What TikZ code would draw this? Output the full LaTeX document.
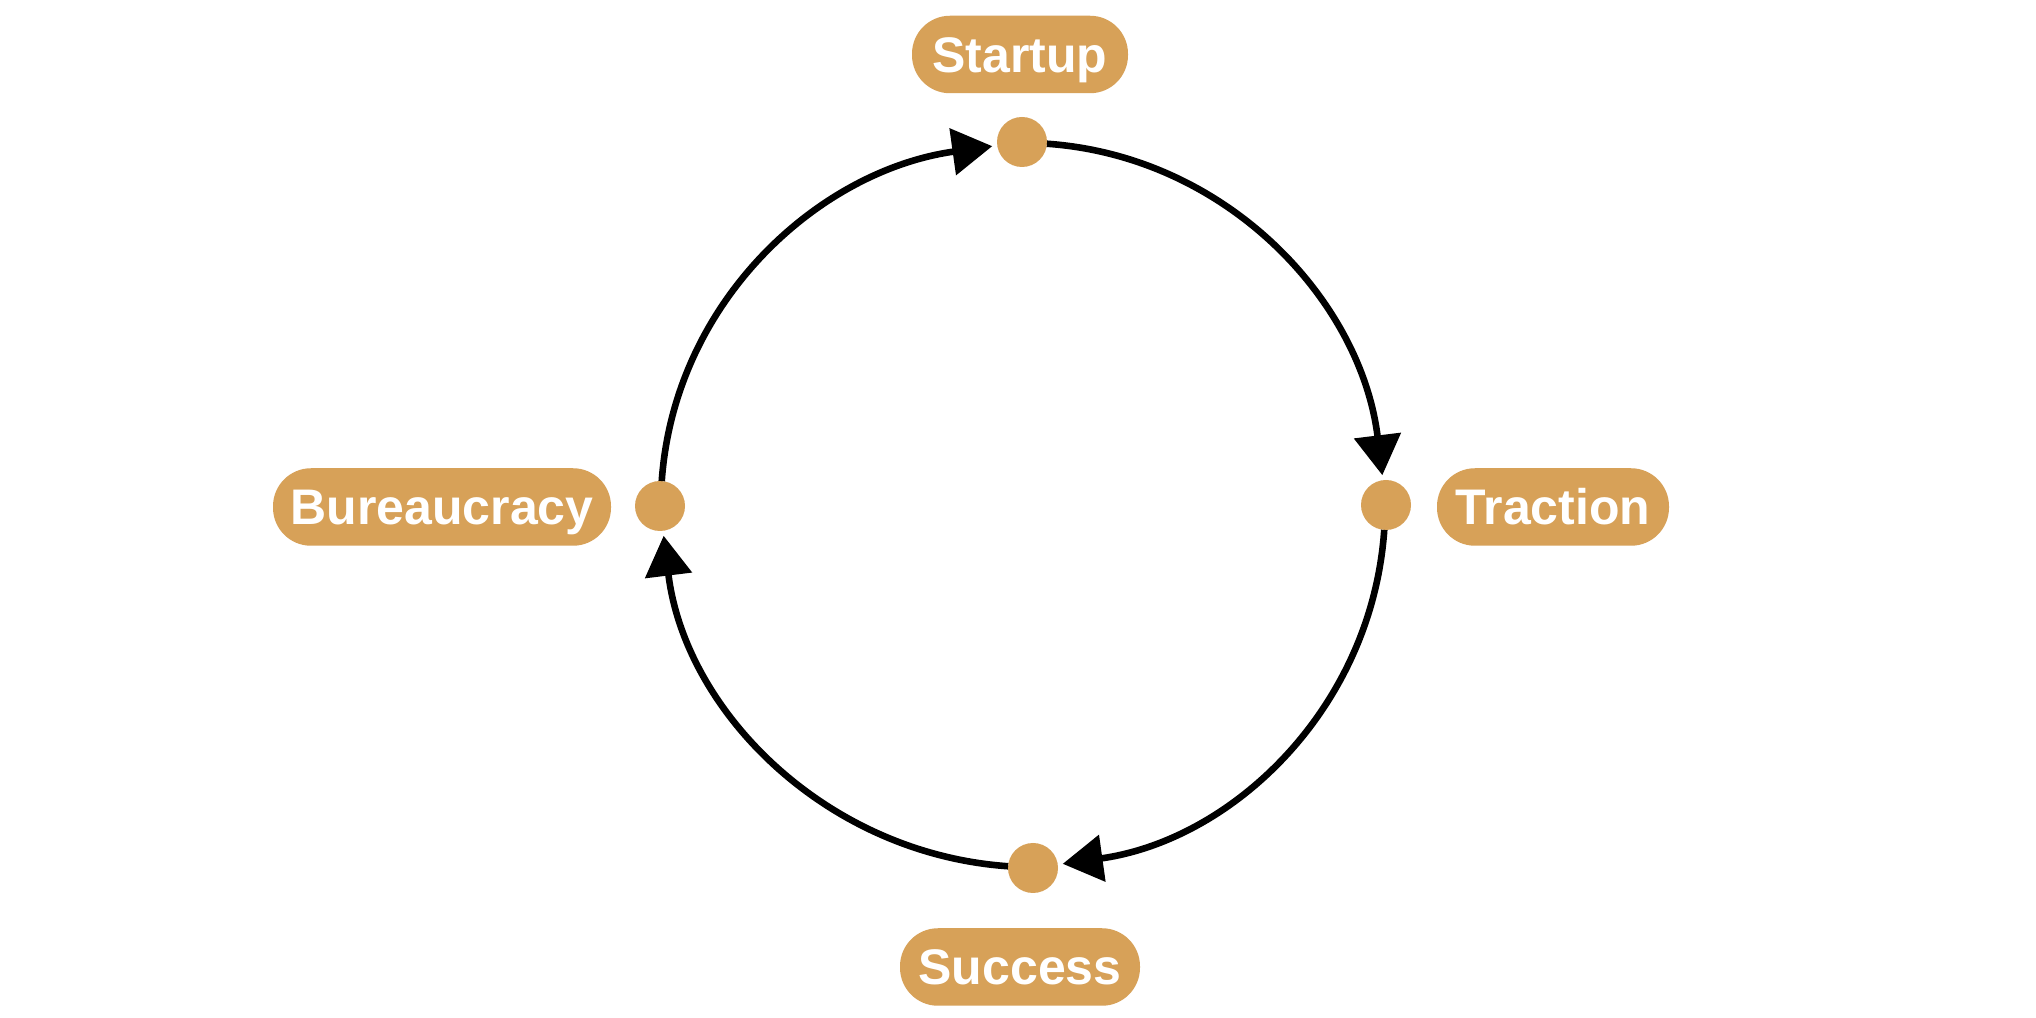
\documentclass[tikz,border=0pt]{standalone}
\usepackage{fontspec}
\setmainfont{Liberation Sans}
\usetikzlibrary{arrows.meta}
\definecolor{gold}{RGB}{215,161,88}
\begin{document}
\begin{tikzpicture}[x=0.5pt,y=0.5pt,
  dot/.style={circle,fill=gold,minimum size=25pt,inner sep=0pt,outer sep=0pt},
  pill/.style={fill=gold,rounded corners=19pt,minimum height=38.75pt,inner sep=0pt,
    text=white,font=\bfseries\fontsize{25pt}{30pt}\selectfont,text height=18pt,text depth=0pt},
  flow/.style={line width=3.3pt,-{Triangle[length=20pt,width=23pt]},looseness=0.97,shorten >=2.5pt}]
\useasboundingbox[fill=white] (0,0) rectangle (2036,1018);
% dots
\node[dot] (t) at (1022,876) {};
\node[dot] (r) at (1386,513) {};
\node[dot] (b) at (1033,150) {};
\node[dot] (l) at (660,512) {};
% labels
\node[pill,minimum width=108pt] (lt) at (1020,963.5) {Startup};
\node[pill,minimum width=116pt] (lr) at (1553,511) {Traction};
\node[pill,minimum width=120pt] (lb) at (1020,51) {Success};
\node[pill,minimum width=169pt] (ll) at (442,511) {Bureaucracy};
% connectors
\draw[flow] (t) to[out=-4,in=97] (r);
\draw[flow] (r) to[out=-94,in=8] (b);
\draw[flow] (b) to[out=176,in=-83] (l);
\draw[flow] (l) to[out=86,in=188] (t);
\end{tikzpicture}
\end{document}
